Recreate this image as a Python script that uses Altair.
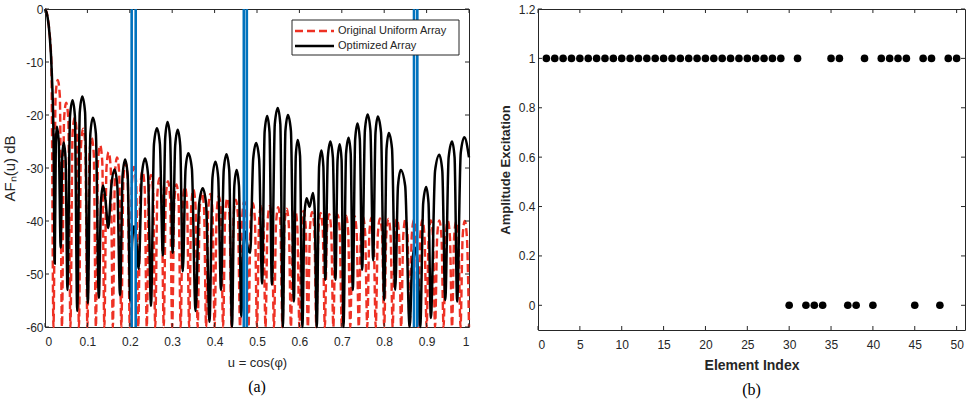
import altair as alt
import pandas as pd

# ---------------- (a) normalised array factor in dB ----------------
red_u = [0.0, 0.005, 0.01, 0.015, 0.02,
         0.025, 0.03, 0.035, 0.04,
         0.045, 0.05, 0.055, 0.06,
         0.065, 0.07, 0.075, 0.08,
         0.085, 0.09, 0.095, 0.10,
         0.105, 0.11, 0.115, 0.12,
         0.125, 0.13, 0.135, 0.14,
         0.145, 0.15, 0.155, 0.16,
         0.165, 0.17, 0.175, 0.18,
         0.185, 0.19, 0.195, 0.20,
         0.205, 0.21, 0.215, 0.22,
         0.225, 0.23, 0.235, 0.24,
         0.245, 0.25, 0.255, 0.26,
         0.265, 0.27, 0.275, 0.28,
         0.285, 0.29, 0.295, 0.30,
         0.305, 0.31, 0.315, 0.32,
         0.325, 0.33, 0.335, 0.34,
         0.345, 0.35, 0.355, 0.36,
         0.365, 0.37, 0.375, 0.38,
         0.385, 0.39, 0.395, 0.40,
         0.405, 0.41, 0.415, 0.42,
         0.425, 0.43, 0.435, 0.44,
         0.445, 0.45, 0.455, 0.46,
         0.465, 0.47, 0.475, 0.48,
         0.485, 0.49, 0.495, 0.50,
         0.505, 0.51, 0.515, 0.52,
         0.525, 0.53, 0.535, 0.54,
         0.545, 0.55, 0.555, 0.56,
         0.565, 0.57, 0.575, 0.58,
         0.585, 0.59, 0.595, 0.60,
         0.605, 0.61, 0.615, 0.62,
         0.625, 0.63, 0.635, 0.64,
         0.645, 0.65, 0.655, 0.66,
         0.665, 0.67, 0.675, 0.68,
         0.685, 0.69, 0.695, 0.70,
         0.705, 0.71, 0.715, 0.72,
         0.725, 0.73, 0.735, 0.74,
         0.745, 0.75, 0.755, 0.76,
         0.765, 0.77, 0.775, 0.78,
         0.785, 0.79, 0.795, 0.80,
         0.805, 0.81, 0.815, 0.82,
         0.825, 0.83, 0.835, 0.84,
         0.845, 0.85, 0.855, 0.86,
         0.865, 0.87, 0.875, 0.88,
         0.885, 0.89, 0.895, 0.90,
         0.905, 0.91, 0.915, 0.92,
         0.925, 0.93, 0.935, 0.94,
         0.945, 0.95, 0.955, 0.96,
         0.965, 0.97, 0.975, 0.98,
         0.985, 0.99, 0.995, 1.00]
red_db = [0, -1, -4, -10, -60,
          -16.4, -13.4, -16.4, -60,
          -20.7, -17.7, -20.7, -60,
          -23.5, -20.5, -23.5, -60,
          -25.6, -22.6, -25.6, -60,
          -27.3, -24.3, -27.3, -60,
          -28.7, -25.7, -28.7, -60,
          -30.0, -27.0, -30.0, -60,
          -31.0, -28.0, -31.0, -60,
          -32.0, -29.0, -32.0, -60,
          -32.8, -29.8, -32.8, -60,
          -33.6, -30.6, -33.6, -60,
          -34.3, -31.3, -34.3, -60,
          -34.9, -31.9, -34.9, -60,
          -35.5, -32.5, -35.5, -60,
          -36.1, -33.1, -36.1, -60,
          -36.6, -33.6, -36.6, -60,
          -37.1, -34.1, -37.1, -60,
          -37.5, -34.5, -37.5, -60,
          -37.9, -34.9, -37.9, -60,
          -38.3, -35.3, -38.3, -60,
          -38.7, -35.7, -38.7, -60,
          -39.0, -36.0, -39.0, -60,
          -39.3, -36.3, -39.3, -60,
          -39.6, -36.6, -39.6, -60,
          -39.9, -36.9, -39.9, -60,
          -40.2, -37.2, -40.2, -60,
          -40.4, -37.4, -40.4, -60,
          -40.7, -37.7, -40.7, -60,
          -40.9, -37.9, -40.9, -60,
          -41.1, -38.1, -41.1, -60,
          -41.3, -38.3, -41.3, -60,
          -41.5, -38.5, -41.5, -60,
          -41.7, -38.7, -41.7, -60,
          -41.8, -38.8, -41.8, -60,
          -42.0, -39.0, -42.0, -60,
          -42.1, -39.1, -42.1, -60,
          -42.2, -39.2, -42.2, -60,
          -42.4, -39.4, -42.4, -60,
          -42.5, -39.5, -42.5, -60,
          -42.6, -39.6, -42.6, -60,
          -42.6, -39.6, -42.6, -60,
          -42.7, -39.7, -42.7, -60,
          -42.8, -39.8, -42.8, -60,
          -42.8, -39.8, -42.8, -60,
          -42.9, -39.9, -42.9, -60,
          -42.9, -39.9, -42.9, -60,
          -43.0, -40.0, -43.0, -60,
          -43.0, -40.0, -43.0, -60,
          -43.0, -40.0, -43.0, -60]

black_u = [0.0, 0.006, 0.011, 0.016, 0.020, 0.023,
           0.0255, 0.028, 0.0325, 0.037,
           0.0405, 0.044, 0.0485, 0.053,
           0.059, 0.065, 0.0705, 0.076,
           0.082, 0.088, 0.0945, 0.101,
           0.107, 0.113, 0.120, 0.127,
           0.132, 0.137, 0.143, 0.149,
           0.1565, 0.164, 0.1705, 0.177,
           0.183, 0.189, 0.195, 0.201,
           0.2055, 0.210, 0.2155, 0.221,
           0.2285, 0.236, 0.243, 0.250,
           0.257, 0.264, 0.271, 0.278,
           0.2835, 0.289, 0.295, 0.301,
           0.307, 0.313, 0.319, 0.325,
           0.3315, 0.338, 0.3465, 0.355,
           0.3635, 0.372, 0.380, 0.388,
           0.395, 0.402, 0.4085, 0.415,
           0.4215, 0.428, 0.4345, 0.441,
           0.4465, 0.452, 0.4575, 0.463,
           0.4675, 0.472, 0.478, 0.484,
           0.491, 0.498, 0.505, 0.512,
           0.518, 0.524, 0.5295, 0.535,
           0.542, 0.549, 0.555, 0.561,
           0.567, 0.573, 0.580, 0.587,
           0.5915, 0.596, 0.6015, 0.607,
           0.612, 0.617, 0.624,
           0.632, 0.636, 0.641,
           0.6465, 0.652, 0.6565, 0.661,
           0.667, 0.673, 0.679, 0.685,
           0.690, 0.695, 0.6995, 0.704,
           0.710, 0.716, 0.721, 0.726,
           0.7315, 0.737, 0.7425, 0.748,
           0.7545, 0.761, 0.7675, 0.774,
           0.7795, 0.785, 0.7925, 0.800,
           0.8055, 0.811, 0.8185, 0.826,
           0.8325, 0.839, 0.8495, 0.860,
           0.866, 0.872, 0.8785, 0.885,
           0.892, 0.899, 0.9045, 0.910,
           0.920, 0.930, 0.937, 0.944,
           0.952, 0.960, 0.966, 0.972,
           0.9805, 0.989, 1.0]
black_db = [0, -1.5, -5, -12, -24, -48,
            -25.2, -22.2, -25.2, -45,
            -28.2, -25.2, -28.2, -53,
            -20.2, -17.2, -20.2, -57,
            -19.5, -16.5, -19.5, -55.5,
            -23.5, -20.5, -23.5, -54.5,
            -36.3, -33.3, -36.3, -41.3,
            -33.3, -30.3, -33.3, -54,
            -31.4, -28.4, -31.4, -55,
            -44, -41, -44, -49,
            -31.2, -28.2, -31.2, -56,
            -25.5, -22.5, -25.5, -46.5,
            -24.3, -21.3, -24.3, -46,
            -25.8, -22.8, -25.8, -49.5,
            -30.2, -27.2, -30.2, -57,
            -36.8, -33.8, -36.8, -59,
            -31.8, -28.8, -31.8, -53,
            -30.4, -27.4, -30.4, -60,
            -33.4, -30.4, -33.4, -58,
            -45, -42, -45, -46,
            -28.3, -25.3, -28.3, -51.8,
            -23.2, -20.2, -23.2, -52,
            -21.7, -18.7, -21.7, -60,
            -23, -20, -23, -55.2,
            -27.7, -24.7, -27.7, -60,
            -38.7, -35.7, -37.3,
            -34.7, -37.7, -60,
            -29.7, -26.7, -29.7, -51.1,
            -28, -25, -28, -51.1,
            -28.5, -25.5, -28.5, -60,
            -27.3, -24.3, -27.3, -53,
            -24.6, -21.6, -24.6, -49.2,
            -22.9, -19.9, -22.9, -47.4,
            -23.3, -20.3, -23.3, -54.9,
            -26.4, -23.4, -26.4, -53,
            -33.4, -30.4, -33.4, -60,
            -48, -45, -48, -60,
            -36.6, -33.6, -36.6, -58.3,
            -30.5, -27.5, -30.5, -54.9,
            -28, -25, -28, -55.2,
            -27.2, -24.2, -28]

blue_u = [0.2044, 0.2139, 0.4689, 0.4760, 0.8703, 0.8781]
legend_labels = ["Original Uniform Array", "Optimized Array"]
a_xticks = [0, 0.1, 0.2, 0.3, 0.4, 0.5, 0.6, 0.7, 0.8, 0.9, 1]
a_yticks = [-60, -50, -40, -30, -20, -10, 0]

# ---------------- (b) amplitude excitation per element ----------------
element_index = [1, 2, 3, 4, 5, 6, 7, 8, 9, 10,
                 11, 12, 13, 14, 15, 16, 17, 18, 19, 20,
                 21, 22, 23, 24, 25, 26, 27, 28, 29, 30,
                 31, 32, 33, 34, 35, 36, 37, 38, 39, 40,
                 41, 42, 43, 44, 45, 46, 47, 48, 49, 50]
amplitude = [1, 1, 1, 1, 1, 1, 1, 1, 1, 1,
             1, 1, 1, 1, 1, 1, 1, 1, 1, 1,
             1, 1, 1, 1, 1, 1, 1, 1, 1, 0,
             1, 0, 0, 0, 1, 1, 0, 0, 1, 0,
             1, 1, 1, 1, 0, 1, 1, 0, 1, 1]
b_xticks = [0, 5, 10, 15, 20, 25, 30, 35, 40, 45, 50]
b_yticks = [0, 0.2, 0.4, 0.6, 0.8, 1, 1.2]

assert len(red_u) == len(red_db) and len(black_u) == len(black_db)

# ---------------- styling ----------------
SANS = "Liberation Sans, Arial, Helvetica, sans-serif"
SERIF = "Liberation Serif, Times New Roman, serif"
AX = "#262626"
RED = "#EE3124"
BLUE = "#0072BD"
WA, HA = 424, 318
WB, HB = 427, 321
TL = 4  # inner tick length

df_red = pd.DataFrame({"u": red_u, "db": red_db})
df_black = pd.DataFrame({"u": black_u, "db": black_db})
df_blue = pd.DataFrame({"u": blue_u})
df_axt = pd.DataFrame({"u": a_xticks})
df_ayt = pd.DataFrame({"db": a_yticks})

xs_a = alt.Scale(domain=[0, 1], nice=False, zero=False)
ys_a = alt.Scale(domain=[-60, 0], nice=False, zero=False)

axis_xa = alt.Axis(values=a_xticks, format=".1~f", labelFont=SANS, labelFontSize=12,
                   labelColor=AX, ticks=False, domain=False, grid=False, labelPadding=9,
                   title="u = cos(φ)", titleFont=SANS, titleFontSize=13,
                   titleFontWeight="normal", titleColor=AX, titlePadding=9)
axis_ya = alt.Axis(values=a_yticks, labelExpr="toString(datum.value)", labelFont=SANS,
                   labelFontSize=12, labelColor=AX, ticks=False, domain=False, grid=False,
                   labelPadding=2, title="AFₙ(u) dB", titleFont=SANS, titleFontSize=15,
                   titleFontWeight="normal", titleColor=AX, titlePadding=8)

XA = alt.X("u:Q", scale=xs_a, axis=axis_xa)
YA = alt.Y("db:Q", scale=ys_a, axis=axis_ya)

red = alt.Chart(df_red).mark_line(
    color=RED, strokeWidth=2.4, strokeDash=[8, 4], interpolate="monotone"
).encode(x=XA, y=YA)
black = alt.Chart(df_black).mark_line(
    color="black", strokeWidth=2.5, interpolate="monotone"
).encode(x=XA, y=YA)
blue = alt.Chart(df_blue).mark_rule(color=BLUE, strokeWidth=2.6).encode(x=XA)


def ticks_x(df, xenc, h):
    b = alt.Chart(df).mark_rule(color=AX, strokeWidth=1).encode(
        x=xenc, y=alt.value(h), y2=alt.value(h - TL))
    t = alt.Chart(df).mark_rule(color=AX, strokeWidth=1).encode(
        x=xenc, y=alt.value(0), y2=alt.value(TL))
    return [b, t]


def ticks_y(df, yenc, w):
    l = alt.Chart(df).mark_rule(color=AX, strokeWidth=1).encode(
        y=yenc, x=alt.value(0), x2=alt.value(TL))
    r = alt.Chart(df).mark_rule(color=AX, strokeWidth=1).encode(
        y=yenc, x=alt.value(w), x2=alt.value(w - TL))
    return [l, r]


# legend drawn inside the plot (top right)
df_l1 = pd.DataFrame({"label": [legend_labels[0]]})
df_l2 = pd.DataFrame({"label": [legend_labels[1]]})
leg_box = alt.Chart(df_l1).mark_rect(fill="white", stroke=AX, strokeWidth=1).encode(
    x=alt.value(247), x2=alt.value(414), y=alt.value(11), y2=alt.value(46))
leg_red = alt.Chart(df_l1).mark_rule(color=RED, strokeWidth=2.4, strokeDash=[8, 4]).encode(
    x=alt.value(250), x2=alt.value(289), y=alt.value(22))
leg_black = alt.Chart(df_l2).mark_rule(color="black", strokeWidth=2.4).encode(
    x=alt.value(250), x2=alt.value(289), y=alt.value(37))
leg_t1 = alt.Chart(df_l1).mark_text(align="left", baseline="middle", font=SANS, fontSize=11,
                                    color=AX).encode(x=alt.value(293), y=alt.value(22), text="label:N")
leg_t2 = alt.Chart(df_l2).mark_text(align="left", baseline="middle", font=SANS, fontSize=11,
                                    color=AX).encode(x=alt.value(293), y=alt.value(37), text="label:N")

panel_a = alt.layer(
    red, black, blue,
    *ticks_x(df_axt, XA, HA), *ticks_y(df_ayt, YA, WA),
    leg_box, leg_red, leg_black, leg_t1, leg_t2,
).properties(
    width=WA, height=HA,
    title=alt.TitleParams(text="(a)", orient="bottom", frame="group", anchor="middle",
                          font=SERIF, fontSize=16, fontWeight="normal", color="black", offset=10),
)

# ---------------- panel (b) ----------------
df_b = pd.DataFrame({"idx": element_index, "amp": amplitude})
df_bxt = pd.DataFrame({"idx": b_xticks})
df_byt = pd.DataFrame({"amp": b_yticks})
xs_b = alt.Scale(domain=[0, 51], nice=False, zero=False)
ys_b = alt.Scale(domain=[-0.1, 1.2], nice=False, zero=False)

axis_xb = alt.Axis(values=b_xticks, format="d", labelFont=SANS, labelFontSize=12,
                   labelColor=AX, ticks=False, domain=False, grid=False, labelPadding=9,
                   title="Element Index", titleFont=SANS, titleFontSize=14,
                   titleFontWeight="bold", titleColor=AX, titlePadding=8)
axis_yb = alt.Axis(values=b_yticks, format=".1~f", labelFont=SANS, labelFontSize=12,
                   labelColor=AX, ticks=False, domain=False, grid=False, labelPadding=3,
                   title="Amplitude Excitation", titleFont=SANS, titleFontSize=13,
                   titleFontWeight="bold", titleColor=AX, titlePadding=6)
XB = alt.X("idx:Q", scale=xs_b, axis=axis_xb)
YB = alt.Y("amp:Q", scale=ys_b, axis=axis_yb)

dots = alt.Chart(df_b).mark_circle(size=58, color="black", opacity=1).encode(x=XB, y=YB)

panel_b = alt.layer(
    dots, *ticks_x(df_bxt, XB, HB), *ticks_y(df_byt, YB, WB),
).properties(
    width=WB, height=HB,
    title=alt.TitleParams(text="(b)", orient="bottom", frame="group", anchor="middle",
                          font=SERIF, fontSize=16, fontWeight="normal", color="black", offset=10),
)

chart = alt.hconcat(panel_a, panel_b, spacing=23).configure_view(
    stroke=AX, strokeWidth=1
).properties(
    padding={"left": 2, "top": 2, "right": 3, "bottom": 0}
)

chart.save("out.html", embed_options={"renderer": "svg", "actions": False})
